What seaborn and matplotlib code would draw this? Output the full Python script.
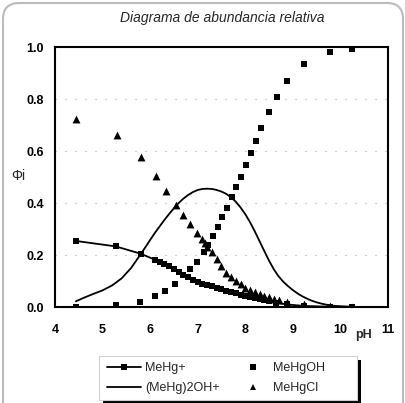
import matplotlib
matplotlib.use("Agg")
import matplotlib.pyplot as plt
import seaborn as sns
import pandas as pd
from matplotlib.patches import FancyBboxPatch, Rectangle
from matplotlib.lines import Line2D

# ---- data ----
ph_mehg = [4.44, 5.28, 5.80, 6.10, 6.20, 6.30, 6.40, 6.50, 6.60, 6.70, 6.80, 6.90,
           7.00, 7.10, 7.20, 7.30, 7.40, 7.50, 7.60, 7.70, 7.80, 7.90, 8.00, 8.10,
           8.20, 8.30, 8.40, 8.50, 8.65, 8.87, 9.24, 9.78, 10.25]
phi_mehg = [0.254, 0.233, 0.205, 0.182, 0.174, 0.165, 0.156, 0.147, 0.134, 0.124,
            0.114, 0.105, 0.097, 0.090, 0.084, 0.079, 0.074, 0.068, 0.063, 0.058,
            0.053, 0.048, 0.043, 0.039, 0.035, 0.031, 0.027, 0.022, 0.016, 0.010,
            0.004, 0.001, 0.000]

ph_dimer = [4.44, 4.6, 4.8, 5.0, 5.2, 5.4, 5.6, 5.8, 5.9, 6.0, 6.1, 6.2, 6.3, 6.4,
            6.5, 6.6, 6.7, 6.8, 6.9, 7.0, 7.1, 7.2, 7.3, 7.4, 7.5, 7.6, 7.7, 7.8,
            7.9, 8.0, 8.1, 8.2, 8.3, 8.4, 8.5, 8.6, 8.7, 8.8, 8.9, 9.0, 9.1, 9.2,
            9.3, 9.4, 9.5, 9.6, 9.7, 9.8, 9.9, 10.0, 10.1, 10.25]
phi_dimer = [0.022, 0.035, 0.050, 0.064, 0.083, 0.110, 0.150, 0.203, 0.230, 0.258,
             0.285, 0.310, 0.335, 0.358, 0.380, 0.400, 0.417, 0.431, 0.442, 0.450,
             0.454, 0.455, 0.454, 0.450, 0.444, 0.435, 0.422, 0.405, 0.383, 0.357,
             0.326, 0.291, 0.253, 0.215, 0.178, 0.145, 0.118, 0.097, 0.080, 0.065,
             0.052, 0.041, 0.032, 0.024, 0.018, 0.013, 0.009, 0.006, 0.004, 0.003,
             0.002, 0.001]

ph_oh = [4.44, 5.28, 5.79, 6.11, 6.32, 6.53, 6.84, 6.98, 7.13, 7.22, 7.33, 7.43,
         7.52, 7.62, 7.72, 7.80, 7.90, 8.01, 8.11, 8.22, 8.34, 8.49, 8.66, 8.87,
         9.24, 9.78, 10.25]
phi_oh = [0.000, 0.007, 0.021, 0.041, 0.063, 0.090, 0.145, 0.175, 0.213, 0.240,
          0.273, 0.309, 0.345, 0.380, 0.424, 0.463, 0.501, 0.546, 0.591, 0.640,
          0.690, 0.749, 0.807, 0.868, 0.935, 0.980, 0.991]

ph_cl = [4.44, 5.30, 5.80, 6.12, 6.33, 6.54, 6.70, 6.84, 6.98, 7.08, 7.15, 7.20,
         7.30, 7.40, 7.50, 7.60, 7.70, 7.80, 7.90, 8.00, 8.10, 8.20, 8.30, 8.40,
         8.50, 8.60, 8.70, 8.87, 9.24, 9.78, 10.25]
phi_cl = [0.724, 0.660, 0.576, 0.505, 0.447, 0.393, 0.354, 0.319, 0.286, 0.260,
          0.245, 0.232, 0.210, 0.183, 0.158, 0.132, 0.115, 0.100, 0.088, 0.075,
          0.066, 0.057, 0.049, 0.043, 0.038, 0.032, 0.026, 0.020, 0.010, 0.003,
          0.001]

series_names = ["MeHg+", "(MeHg)2OH+", "MeHgOH", "MeHgCl"]
title = "Diagrama de abundancia relativa"
x_ticks = [4, 5, 6, 7, 8, 9, 10, 11]
y_ticks = [0.0, 0.2, 0.4, 0.6, 0.8, 1.0]

df_mehg = pd.DataFrame({"pH": ph_mehg, "phi": phi_mehg})
df_dimer = pd.DataFrame({"pH": ph_dimer, "phi": phi_dimer})
df_oh = pd.DataFrame({"pH": ph_oh, "phi": phi_oh})
df_cl = pd.DataFrame({"pH": ph_cl, "phi": phi_cl})

sns.set_style("white")
plt.rcParams["font.family"] = ["Liberation Sans", "DejaVu Sans"]

W, H = 406, 403
fig = plt.figure(figsize=(W / 100, H / 100), dpi=100)
ax = fig.add_axes([55 / W, 1 - 307 / H, (388 - 55) / W, (307 - 47) / H])

sns.lineplot(data=df_dimer, x="pH", y="phi", ax=ax, color="black", linewidth=1.3,
             sort=False, legend=False)
sns.lineplot(data=df_mehg, x="pH", y="phi", ax=ax, color="black", linewidth=1.3,
             marker="s", markersize=4, markeredgewidth=0, sort=False, legend=False)
sns.scatterplot(data=df_oh, x="pH", y="phi", ax=ax, color="black", marker="s",
                s=22, linewidth=0, legend=False, zorder=3)
sns.scatterplot(data=df_cl, x="pH", y="phi", ax=ax, color="black", marker="^",
                s=32, linewidth=0, legend=False, zorder=3)

ax.set_xlim(4, 11)
ax.set_ylim(0, 1.0)
ax.set_xticks(x_ticks)
ax.set_yticks(y_ticks)
ax.set_xticklabels([str(t) for t in x_ticks])
ax.set_yticklabels([f"{t:.1f}" for t in y_ticks])
ax.tick_params(axis="both", length=0, labelsize=9, colors="black")
ax.tick_params(axis="x", pad=12)
ax.tick_params(axis="y", pad=8)
for lab in ax.get_xticklabels() + ax.get_yticklabels():
    lab.set_fontweight("bold")
ax.set_xlabel("")
ax.set_ylabel("")
for sp in ax.spines.values():
    sp.set_visible(True)
    sp.set_color("black")
    sp.set_linewidth(1.5)
for yv in [0.2, 0.4, 0.6, 0.8]:
    ax.axhline(yv, color="#aaaaaa", linewidth=0.8, linestyle=(0, (1, 8)), zorder=0)

fig.text(222 / W, 1 - 18 / H, title, ha="center", va="center", fontsize=10,
         style="italic")
fig.text(18 / W, 1 - 176 / H, "Φi", ha="center", va="center", fontsize=10)
fig.text(364 / W, 1 - 335 / H, "pH", ha="center", va="center", fontsize=9,
         fontweight="bold")

# legend box with Excel-style shadow
bx0, bx1, by0, by1 = 99, 357, 356, 400   # pixel box (top-down y)
shadow = Rectangle(((bx0 + 4) / W, 1 - (by1 + 4) / H), (bx1 - bx0) / W,
                   (by1 - by0) / H, transform=fig.transFigure,
                   facecolor="black", edgecolor="none", zorder=1)
box = Rectangle((bx0 / W, 1 - by1 / H), (bx1 - bx0) / W, (by1 - by0) / H,
                transform=fig.transFigure, facecolor="white",
                edgecolor="#d0d0d0", linewidth=0.8, zorder=2)
fig.patches.extend([shadow, box])

handles = [
    Line2D([], [], color="black", lw=1.3, marker="s", markersize=4, markeredgewidth=0),
    Line2D([], [], color="black", lw=1.3),
    Line2D([], [], color="black", lw=0, marker="s", markersize=4, markeredgewidth=0),
    Line2D([], [], color="black", lw=0, marker="^", markersize=5, markeredgewidth=0),
]
leg = fig.legend(handles, series_names, ncol=2, loc="upper left",
                 bbox_to_anchor=(101 / W, 1 - 356 / H), fontsize=9,
                 handlelength=2.7, handletextpad=0.3, columnspacing=1.3,
                 labelspacing=0.65, borderpad=0.5, frameon=False, borderaxespad=0)
leg.set_zorder(5)

frame = FancyBboxPatch((3 / W, -0.05), 1 - 6 / W, 1.05 - 3 / H,
                       boxstyle="round,pad=0,rounding_size=0.04",
                       transform=fig.transFigure, fill=False,
                       edgecolor="#bbbbbb", linewidth=1.5)
fig.patches.append(frame)

fig.savefig("out.png", dpi=100)
